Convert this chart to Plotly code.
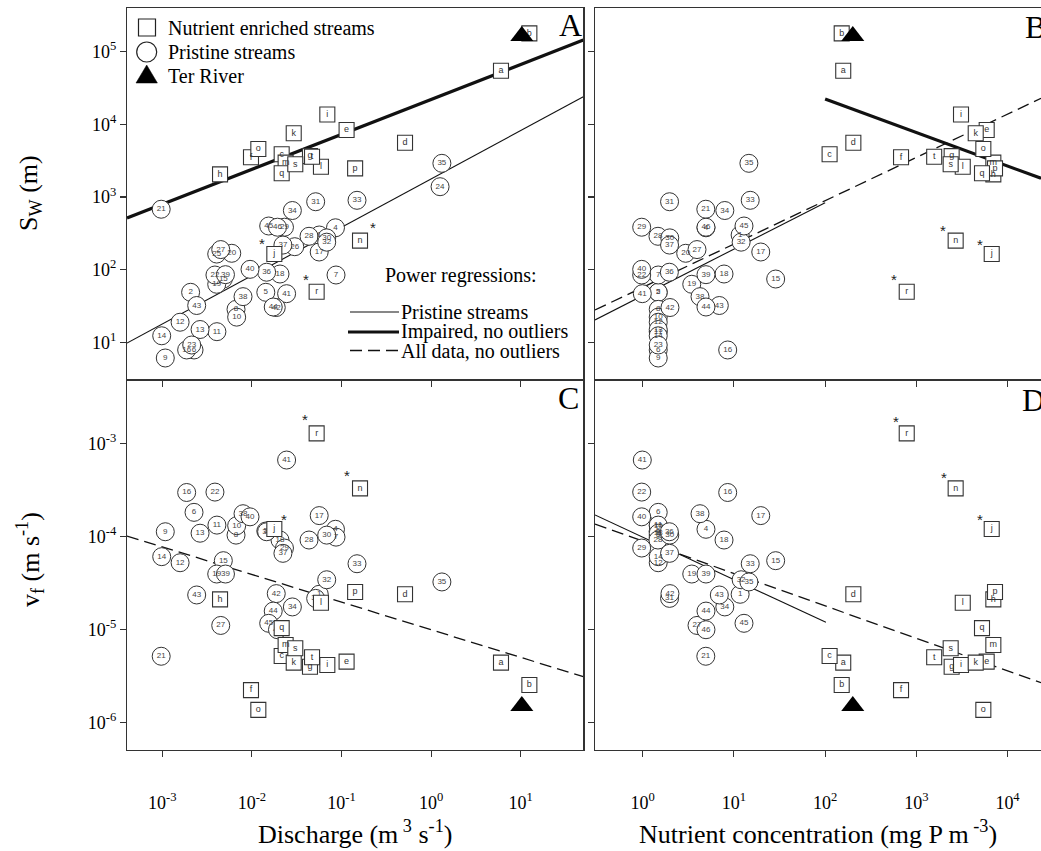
import math
import plotly.graph_objects as go

# ---------------- data ----------------
pristine_id = [1, 2, 4, 5, 6, 7, 8, 9, 10, 11, 12, 13, 14, 15, 16, 17, 18, 19, 20,
               21, 22, 23, 24, 25, 26, 27, 28, 29, 30, 31, 32, 33, 34, 35, 36, 37,
               38, 39, 40, 41, 42, 43, 44, 45, 46]
pristine_discharge = [5.65e-2, 2.07e-3, 8.57e-2, 1.43e-2, 2.26e-3, 8.69e-2, 6.65e-3, 1.08e-3,
                      6.76e-3, 4.07e-3, 1.58e-3, 2.64e-3, 9.85e-4, 4.80e-3, 1.87e-3, 5.64e-2,
                      2.06e-2, 4.05e-3, 5.96e-3, 9.72e-4, 3.87e-3, 2.13e-3, 1.26, 4.05e-3,
                      3.01e-2, 4.49e-3, 4.34e-2, 2.31e-2, 6.84e-2, 5.15e-2, 6.84e-2, 0.149,
                      2.83e-2, 1.32, 1.46e-2, 2.22e-2, 7.96e-3, 5.07e-3, 9.53e-3, 2.44e-2,
                      1.87e-2, 2.42e-3, 1.73e-2, 1.54e-2, 1.93e-2]
pristine_nutrient = [11.7, 1.48, 4.94, 1.48, 1.48, 1.48, 1.48, 1.48, 1.48, 1.48, 1.48, 1.48,
                     1.48, 28.7, 8.55, 19.7, 7.79, 3.45, 2.96, 4.92, 0.975, 1.48, None, None,
                     None, 3.94, 1.47, 0.975, 1.98, 1.97, 12.0, 15.1, 7.95, 14.6, 1.96, 1.97,
                     4.25, 4.94, 0.975, 0.99, 1.99, 6.92, 4.94, 12.9, 4.94]
pristine_sw = [300, 48.8, 377, 48.8, 7.84, 84.4, 28.4, 6.08, 22.2, 14.0, 18.9, 15.0, 12.3,
               74.3, 7.84, 175, 87.1, 62.9, 168, 679, 84.4, 9.18, 1387, 164, 207, 189, 288,
               384, 274, 861, 239, 901, 652, 2910, 92.2, 218, 42.5, 85.3, 101, 46.7, 30.1,
               32.1, 30.6, 399, 384]
pristine_vf = [2.38e-5, None, 1.19e-4, 1.14e-4, 1.81e-4, 9.8e-5, 1.03e-4, 1.12e-4, 1.30e-4,
               1.32e-4, 5.20e-5, 1.08e-4, 6.04e-5, 5.47e-5, 2.96e-4, 1.67e-4, 9.12e-5,
               3.93e-5, None, 5.13e-6, 2.99e-4, None, None, None, None, 1.10e-5, 9.12e-5,
               7.48e-5, 1.03e-4, 2.15e-5, 3.41e-5, 5.07e-5, 1.74e-5, 3.23e-5, 1.12e-4,
               6.56e-5, 1.75e-4, 3.93e-5, 1.62e-4, 6.61e-4, 2.42e-5, 2.34e-5, 1.57e-5,
               1.16e-5, 9.9e-6]

enriched_id = ["a", "b", "c", "d", "e", "f", "g", "h", "i", "j",
               "k", "l", "m", "n", "o", "p", "q", "r", "s", "t"]
enriched_discharge = [6.03, 12.5, 2.15e-2, 0.512, 0.114, 9.77e-3, 4.45e-2, 4.41e-3, 6.95e-2,
                      1.78e-2, 2.93e-2, 5.90e-2, 2.38e-2, 0.161, 1.18e-2, 0.142, 2.15e-2,
                      5.28e-2, 3.05e-2, 4.69e-2]
enriched_nutrient = [158, 152, 112, 204, 5910, 680, 2440, 6990, 3090, 6710, 4480, 3230,
                     6990, 2700, 5430, 7290, 5250, 785, 2380, 1570]
enriched_sw = [54700, 179000, 3870, 5590, 8360, 3520, 3660, 2050, 13700, 164, 7530, 2610,
               2970, 251, 4580, 2480, 2120, 49.7, 2820, 3590]
enriched_vf = [4.38e-6, 2.52e-6, 5.16e-6, 2.38e-5, 4.49e-6, 2.22e-6, 3.96e-6, 2.10e-5,
               4.13e-6, 1.2e-4, 4.38e-6, 1.93e-5, 6.78e-6, 3.28e-4, 1.36e-6, 2.52e-5,
               1.03e-5, 1.28e-3, 6.25e-6, 5.0e-6]
outlier_ids = ["j", "n", "r"]

ter_discharge = [10.3]
ter_nutrient = [201]
ter_sw = [1.64e5]
ter_vf = [1.50e-6]

# power regressions  y = coef * x ** expo
reg_panel = ["A", "A", "B", "B", "B", "C", "D", "D"]
reg_kind = ["pristine", "impaired", "impaired", "all", "pristine", "all", "pristine", "all"]
reg_coef = [1774, 22030, 186600, 57.1, 43.9, 9.89e-6, 9.79e-5, 8.91e-5]
reg_expo = [0.666, 0.481, -0.461, 0.596, 0.640, -0.297, -0.456, -0.349]
reg_xmin = [None, None, 100, None, None, None, None, None]
reg_xmax = [None, None, None, None, 100, None, 102, None]

q_ticks = [1e-3, 1e-2, 1e-1, 1e0, 1e1]
q_ticktext = ["10<sup>-3</sup>", "10<sup>-2</sup>", "10<sup>-1</sup>", "10<sup>0</sup>", "10<sup>1</sup>"]
p_ticks = [1e0, 1e1, 1e2, 1e3, 1e4]
p_ticktext = ["10<sup>0</sup>", "10<sup>1</sup>", "10<sup>2</sup>", "10<sup>3</sup>", "10<sup>4</sup>"]
sw_ticks = [1e1, 1e2, 1e3, 1e4, 1e5]
sw_ticktext = ["10<sup>1</sup>", "10<sup>2</sup>", "10<sup>3</sup>", "10<sup>4</sup>", "10<sup>5</sup>"]
vf_ticks = [1e-6, 1e-5, 1e-4, 1e-3]
vf_ticktext = ["10<sup>-6</sup>", "10<sup>-5</sup>", "10<sup>-4</sup>", "10<sup>-3</sup>"]

# ---------------- layout geometry ----------------
W, H = 1041, 851
ML, MR, MT, MB = 127, 0, 8, 101
PW, PH = W - ML - MR, H - MT - MB


def pxx(X):
    return (X - ML) / PW


def pxy(Y):
    return (H - MB - Y) / PH


SERIF = "Liberation Serif, Times New Roman, serif"
SANS = "Liberation Sans, Arial, sans-serif"
INK = "#222222"

q_range = [-3.394, 1.699]
p_range = [-0.523, 4.367]
sw_range = [0.481, 5.602]
vf_range = [-6.298, -2.319]

panels = {
    "A": dict(xa="x", ya="y", xs="discharge", ys="sw", xr=q_range),
    "B": dict(xa="x2", ya="y2", xs="nutrient", ys="sw", xr=p_range),
    "C": dict(xa="x3", ya="y3", xs="discharge", ys="vf", xr=q_range),
    "D": dict(xa="x4", ya="y4", xs="nutrient", ys="vf", xr=p_range),
}
pristine = dict(discharge=pristine_discharge, nutrient=pristine_nutrient, sw=pristine_sw, vf=pristine_vf)
enriched = dict(discharge=enriched_discharge, nutrient=enriched_nutrient, sw=enriched_sw, vf=enriched_vf)
ter = dict(discharge=ter_discharge, nutrient=ter_nutrient, sw=ter_sw, vf=ter_vf)


def pick(xs, ys, labels):
    rows = [(x, y, str(l)) for x, y, l in zip(xs, ys, labels) if x is not None and y is not None]
    return [r[0] for r in rows], [r[1] for r in rows], [r[2] for r in rows]


fig = go.Figure()

line_style = {
    "pristine": dict(color="#111111", width=1.1),
    "impaired": dict(color="#111111", width=3.2),
    "all": dict(color="#111111", width=1.3, dash="12px,6px"),
}

for name, pn in panels.items():
    # regression lines
    for i, rp in enumerate(reg_panel):
        if rp != name:
            continue
        lo = reg_xmin[i] if reg_xmin[i] is not None else 10 ** pn["xr"][0]
        hi = reg_xmax[i] if reg_xmax[i] is not None else 10 ** pn["xr"][1]
        xs = [lo, hi]
        ys = [reg_coef[i] * x ** reg_expo[i] for x in xs]
        fig.add_trace(go.Scatter(x=xs, y=ys, mode="lines", line=line_style[reg_kind[i]],
                                 xaxis=pn["xa"], yaxis=pn["ya"], showlegend=False, hoverinfo="skip"))
    # pristine circles
    x, y, t = pick(pristine[pn["xs"]], pristine[pn["ys"]], pristine_id)
    fig.add_trace(go.Scatter(x=x, y=y, text=t, mode="markers+text", textposition="middle center",
                             textfont=dict(family=SANS, size=8, color="#444444"),
                             marker=dict(symbol="circle", size=18, color="white",
                                         line=dict(color="#333333", width=1)),
                             xaxis=pn["xa"], yaxis=pn["ya"], showlegend=False, cliponaxis=False))
    # nutrient enriched squares
    x, y, t = pick(enriched[pn["xs"]], enriched[pn["ys"]], enriched_id)
    fig.add_trace(go.Scatter(x=x, y=y, text=t, mode="markers+text", textposition="middle center",
                             textfont=dict(family=SANS, size=9, color="#333333"),
                             marker=dict(symbol="square", size=15, color="white",
                                         line=dict(color="#333333", width=1.1)),
                             xaxis=pn["xa"], yaxis=pn["ya"], showlegend=False, cliponaxis=False))
    # Ter River
    fig.add_trace(go.Scatter(x=ter[pn["xs"]], y=ter[pn["ys"]], mode="markers",
                             marker=dict(symbol="triangle-up", size=20, color="black"),
                             xaxis=pn["xa"], yaxis=pn["ya"], showlegend=False, cliponaxis=False))

# ---------------- asterisks marking outliers ----------------
ast_offsets = {
    "A": {"j": (-12, -9), "n": (13, -11), "r": (-11, -10)},
    "B": {"j": (-12, -8), "n": (-13, -8), "r": (-13, -10)},
    "C": {"j": (10, -7), "n": (-13, -11), "r": (-12, -12)},
    "D": {"j": (-12, -7), "n": (-12, -9), "r": (-11, -10)},
}
annotations = []
for name, pn in panels.items():
    for oid in outlier_ids:
        k = enriched_id.index(oid)
        xv = enriched[pn["xs"]][k]
        yv = enriched[pn["ys"]][k]
        dx, dy = ast_offsets[name][oid]
        annotations.append(dict(x=math.log10(xv), y=math.log10(yv), xref=pn["xa"], yref=pn["ya"],
                                text="*", showarrow=False, xshift=dx, yshift=-dy + 2,
                                font=dict(family=SANS, size=15, color="#222222")))

# ---------------- axes ----------------
common = dict(type="log", showgrid=False, zeroline=False, showline=True, linecolor="#333333",
              linewidth=1.2, ticks="outside", ticklen=6, tickcolor="#333333", tickwidth=1.1,
              tickfont=dict(family=SERIF, size=18, color="black"), tickmode="array")
xdomA = [0, pxx(583.3)]
xdomB = [pxx(595), 1.0]
ydomTop = [pxy(380), 1.0]
ydomBot = [0, pxy(380)]

fig.update_layout(
    xaxis=dict(common, domain=xdomA, range=q_range, tickvals=q_ticks, showticklabels=False,
               anchor="y", mirror=True),
    yaxis=dict(common, domain=ydomTop, range=sw_range, tickvals=sw_ticks, ticktext=sw_ticktext,
               anchor="x", mirror=True),
    xaxis2=dict(common, domain=xdomB, range=p_range, tickvals=p_ticks, showticklabels=False,
                anchor="y2", mirror=True),
    yaxis2=dict(common, domain=ydomTop, range=sw_range, tickvals=sw_ticks, showticklabels=False,
                anchor="x2", mirror=False),
    xaxis3=dict(common, domain=xdomA, range=q_range, tickvals=q_ticks, ticktext=q_ticktext,
                anchor="y3", mirror=True, ticklabelstandoff=30),
    yaxis3=dict(common, domain=ydomBot, range=vf_range, tickvals=vf_ticks, ticktext=vf_ticktext,
                anchor="x3", mirror=True),
    xaxis4=dict(common, domain=xdomB, range=p_range, tickvals=p_ticks, ticktext=p_ticktext,
                anchor="y4", mirror=True, ticklabelstandoff=30),
    yaxis4=dict(common, domain=ydomBot, range=vf_range, tickvals=vf_ticks, showticklabels=False,
                anchor="x4", mirror=False),
)

# ---------------- text: titles, panel letters, legends ----------------
def ptext(X, Y, text, size, xanchor="center", angle=0):
    return dict(x=pxx(X), y=pxy(Y), xref="paper", yref="paper", text=text, showarrow=False,
                xanchor=xanchor, yanchor="middle", textangle=angle,
                font=dict(family=SERIF, size=size, color="black"))


annotations += [
    ptext(30, 193, "S<sub>W</sub> (m)", 26, angle=-90),
    ptext(30, 560, "v<sub>f</sub> (m s<sup>-1</sup>)", 26, angle=-90),
    ptext(355, 833, "Discharge (m<sup> 3</sup> s<sup>-1</sup>)", 26),
    ptext(818, 833, "Nutrient concentration (mg P m<sup> -3</sup>)", 26),
    ptext(570, 25, "A", 32),
    ptext(1035, 27, "B", 32),
    ptext(568, 398, "C", 32),
    ptext(1033, 400, "D", 32),
    ptext(166, 28, "Nutrient enriched streams", 20, xanchor="left"),
    ptext(166, 52, "Pristine streams", 20, xanchor="left"),
    ptext(166, 76, "Ter River", 20, xanchor="left"),
    ptext(383, 275, "Power regressions:", 20, xanchor="left"),
    ptext(399, 312, "Pristine streams", 20, xanchor="left"),
    ptext(399, 332, "Impaired, no outliers", 20, xanchor="left"),
    ptext(399, 351, "All data, no outliers", 20, xanchor="left"),
]

shapes = [
    dict(type="rect", xref="paper", yref="paper", x0=pxx(138.5), x1=pxx(155.5), y0=pxy(36),
         y1=pxy(19), line=dict(color=INK, width=1.2), fillcolor="white"),
    dict(type="circle", xref="paper", yref="paper", x0=pxx(136.7), x1=pxx(156.7), y0=pxy(62),
         y1=pxy(42), line=dict(color=INK, width=1.2), fillcolor="white"),
    dict(type="path", xref="paper", yref="paper",
         path="M {:.5f} {:.5f} L {:.5f} {:.5f} L {:.5f} {:.5f} Z".format(
             pxx(136), pxy(83), pxx(146.7), pxy(65), pxx(157.4), pxy(83)),
         line=dict(color="black", width=0.5), fillcolor="black"),
    dict(type="line", xref="paper", yref="paper", x0=pxx(350), x1=pxx(399), y0=pxy(312),
         y1=pxy(312), line=dict(color="#111111", width=1.1)),
    dict(type="line", xref="paper", yref="paper", x0=pxx(348), x1=pxx(399), y0=pxy(332),
         y1=pxy(332), line=dict(color="#111111", width=3.2)),
    dict(type="line", xref="paper", yref="paper", x0=pxx(350), x1=pxx(398), y0=pxy(350.5),
         y1=pxy(350.5), line=dict(color="#111111", width=1.3, dash="12px,6px")),
]

fig.update_layout(
    width=W, height=H, autosize=False,
    margin=dict(l=ML, r=MR, t=MT, b=MB, pad=0),
    paper_bgcolor="white", plot_bgcolor="white",
    showlegend=False,
    annotations=annotations, shapes=shapes,
)

fig.write_html("out.html",
               config={"displayModeBar": False, "staticPlot": True},
               post_script="document.body.style.margin='0';document.body.style.padding='0';")
